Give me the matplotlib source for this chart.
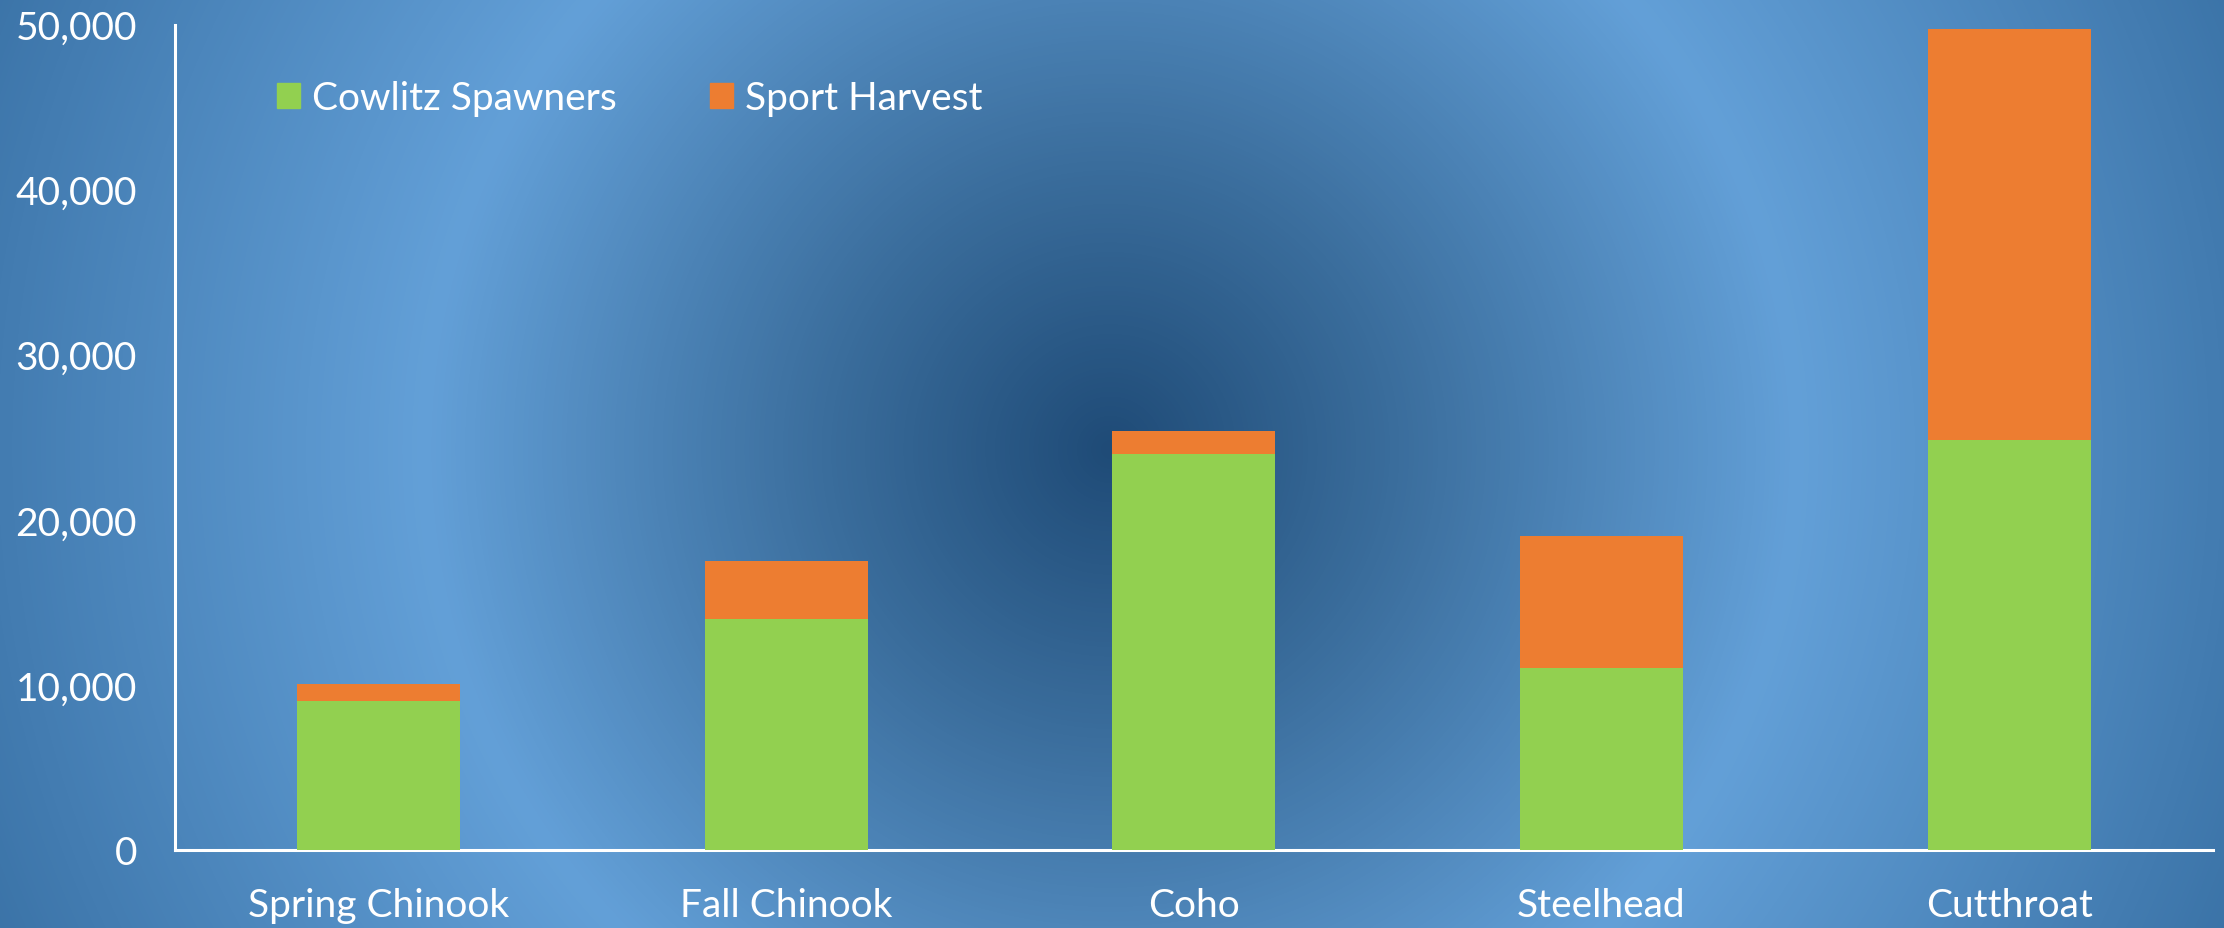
import numpy as np
import matplotlib.pyplot as plt
from matplotlib.colors import LinearSegmentedColormap
from matplotlib.patches import Patch
from matplotlib.ticker import FuncFormatter

# data
categories = ['Spring Chinook', 'Fall Chinook', 'Coho', 'Steelhead', 'Cutthroat']
spawners = [9000, 14000, 24000, 11000, 24850]
harvest = [1050, 3500, 1400, 8000, 24900]
series_names = ['Cowlitz Spawners', 'Sport Harvest']

green = '#92D050'
orange = '#ED7D31'

plt.rcParams['font.family'] = ['Lato', 'DejaVu Sans']

W, H = 2224, 929
fig = plt.figure(figsize=(W / 100, H / 100), dpi=100)

# radial gradient background (dark centre, light ring, mid blue outside)
bg = fig.add_axes([0, 0, 1, 1], zorder=-10)
yy, xx = np.mgrid[0:H, 0:W]
rmax = 1.8
r = np.sqrt((xx - 1110) ** 2 + (yy - 450) ** 2) / 685.0
stops = [(0.0, '#1F4B77'), (0.42, '#3B6E9D'), (1.0, '#63A0D8'), (1.8, '#3A72A6')]
cmap = LinearSegmentedColormap.from_list('bg', [(p / rmax, c) for p, c in stops])
bg.imshow(np.clip(r / rmax, 0, 1), cmap=cmap, vmin=0, vmax=1, aspect='auto',
          extent=(0, W, H, 0), interpolation='bilinear')
bg.set_axis_off()

ax = fig.add_axes([174.5 / W, 1 - 851 / H, (2213 - 174.5) / W, (851 - 25.5) / H])
ax.patch.set_alpha(0)

x = np.arange(len(categories))
ax.bar(x, spawners, width=0.4, color=green, zorder=3)
ax.bar(x, harvest, width=0.4, bottom=spawners, color=orange, zorder=3)

ax.set_xlim(-0.5, len(categories) - 0.5)
ax.set_ylim(0, 50000)
ax.set_yticks(np.arange(0, 50001, 10000))
ax.yaxis.set_major_formatter(FuncFormatter(lambda v, p: f'{int(v):,}'))
ax.set_xticks(x)
ax.set_xticklabels(categories)

for s in ['top', 'right']:
    ax.spines[s].set_visible(False)
for s in ['left', 'bottom']:
    ax.spines[s].set_color('white')
    ax.spines[s].set_linewidth(2.2)

ax.tick_params(axis='both', length=0, colors='white', labelsize=28)
ax.tick_params(axis='y', pad=27)
ax.tick_params(axis='x', pad=27)

handles = [Patch(color=green), Patch(color=orange)]
ax.legend(handles, series_names, loc='upper left', bbox_to_anchor=(0.033, 0.975),
          ncol=2, frameon=False, fontsize=28, labelcolor='white',
          handlelength=0.6, handleheight=0.6, handletextpad=0.3,
          columnspacing=2.4)

fig.savefig('out.png', dpi=100)
